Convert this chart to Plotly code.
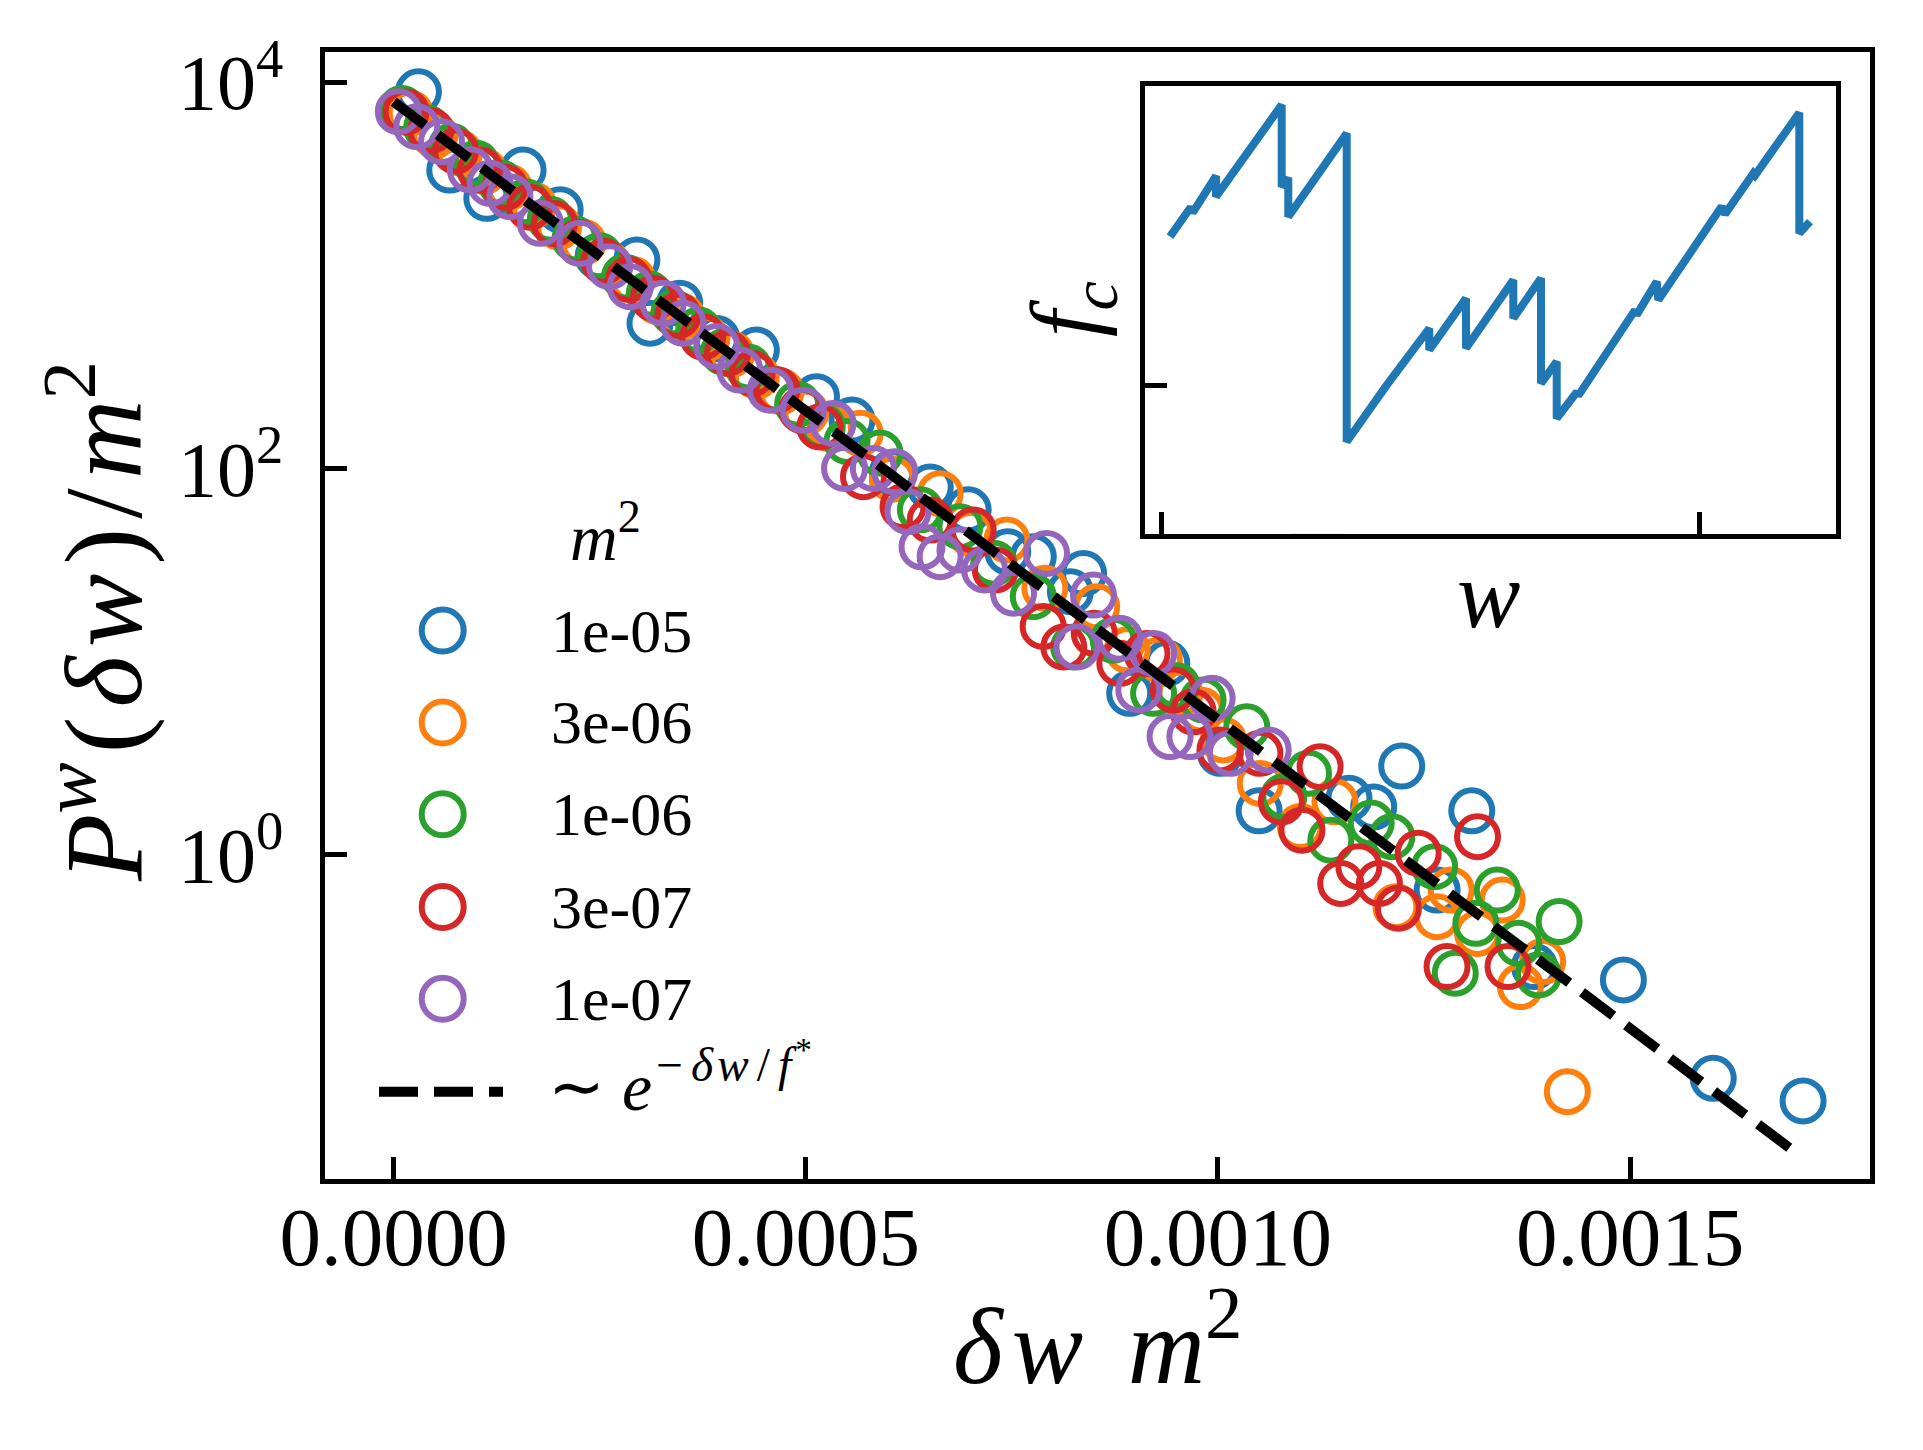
import plotly.graph_objects as go

# Scaled jump-size distributions P^w(dw)/m^2 versus dw*m^2, one series per m^2
# values (open circles, log y axis)

dw_1e05 = [0.00003, 0.000068, 0.000113, 0.000157, 0.000202, 0.000248, 0.000295, 0.000311,
           0.000347, 0.000392, 0.00044, 0.000513, 0.000556, 0.000605, 0.000651, 0.000697,
           0.000745, 0.000776, 0.000821, 0.000837, 0.000893, 0.000938, 0.001003, 0.00105,
           0.001159, 0.001189, 0.001223, 0.001266, 0.001308, 0.001384, 0.001492, 0.001601,
           0.00171]
p_1e05 = [8900, 3500, 2500, 3500, 2180, 1250, 1200, 564,
          716, 470, 410, 235, 178, 95, 80, 61,
          37, 34.9, 23.0, 28.6, 6.85, 9.8, 3.35, 1.69,
          1.96, 1.77, 2.88, 0.657, 1.69, 0.264, 0.225, 0.0697,
          0.0532]

dw_3e06 = [0.00002, 0.00005, 0.00008, 0.00011, 0.00014, 0.00017, 0.0002, 0.00023,
           0.00026, 0.00029, 0.00032, 0.00035, 0.00038, 0.00041, 0.00044, 0.00047,
           0.0005, 0.00053, 0.000566, 0.000605, 0.000663, 0.0007, 0.000744, 0.00079,
           0.000853, 0.00089, 0.000929, 0.000954, 0.00098, 0.0010065, 0.0010514, 0.0011,
           0.001142, 0.001216, 0.001266, 0.001283, 0.001315, 0.001345, 0.001367, 0.001394,
           0.001424]
p_3e06 = [6900, 5300, 4300, 3450, 2850, 2300, 1780, 1480,
          1140, 950, 730, 610, 470, 390, 300, 250,
          195, 160, 152, 88, 74, 46, 42.6, 24,
          19.2, 11.5, 10.2, 6.85, 5.6, 3.93, 2.34, 1.40,
          1.88, 0.539, 0.478, 0.658, 0.392, 0.583, 0.208, 0.280,
          0.0594]

dw_1e06 = [0.00001, 0.00004, 0.00007, 0.0001, 0.00013, 0.00016, 0.00019, 0.00022,
           0.00025, 0.00028, 0.00031, 0.00034, 0.00037, 0.0004, 0.00043, 0.00046,
           0.00049, 0.00052, 0.00055, 0.00059, 0.000639, 0.000687, 0.000728, 0.000776,
           0.000825, 0.000873, 0.000922, 0.00095, 0.000982, 0.001035, 0.00108, 0.00111,
           0.001137, 0.001186, 0.001211, 0.001263, 0.001288, 0.001313, 0.001339, 0.001365,
           0.001389, 0.001414]
p_1e06 = [7300, 5800, 4650, 3800, 3000, 2400, 1950, 1540,
          1260, 980, 800, 640, 520, 400, 335, 258,
          215, 165, 138, 120, 61, 49.9, 32.3, 21.7,
          11.9, 12.9, 6.85, 7.5, 6.33, 4.6, 2.0, 2.64,
          1.19, 1.46, 1.24, 0.868, 0.244, 0.442, 0.657, 0.348,
          0.239, 0.451]

dw_3e07 = [0.000015, 0.000045, 0.000075, 0.000105, 0.000135, 0.000165, 0.000195, 0.000225,
           0.000255, 0.000285, 0.000315, 0.000345, 0.000375, 0.000405, 0.000435, 0.000465,
           0.000495, 0.000517, 0.00057, 0.000618, 0.000651, 0.000703, 0.00073, 0.000788,
           0.000813, 0.00085, 0.000881, 0.000914, 0.000946, 0.00097, 0.0010025, 0.001051,
           0.001077, 0.001102, 0.001124, 0.001149, 0.001171, 0.001196, 0.001219, 0.001243,
           0.001278, 0.001315, 0.001352]
p_3e07 = [7000, 5600, 4400, 3500, 2850, 2250, 1850, 1480,
          1180, 950, 760, 620, 480, 395, 310, 255,
          200, 164, 90.6, 63.4, 54, 48, 29.8, 15.2,
          11.9, 14, 9.8, 11.0, 7.13, 5.5, 3.49, 3.35,
          1.88, 1.34, 2.86, 0.711, 0.868, 0.711, 0.529, 1.02,
          0.264, 1.24, 0.264]

dw_1e07 = [0.0000056, 0.000028, 0.000058, 0.000093, 0.000117, 0.000141, 0.000178, 0.000226,
           0.000262, 0.000287, 0.000327, 0.000351, 0.000392, 0.00042, 0.000457, 0.000497,
           0.000533, 0.000547, 0.000582, 0.000608, 0.000624, 0.000641, 0.000663, 0.000687,
           0.000717, 0.000752, 0.000792, 0.000829, 0.000849, 0.000881, 0.000904, 0.000922,
           0.000942, 0.000966, 0.000993, 0.001015, 0.001061]
p_1e07 = [7020, 5870, 4910, 3510, 2990, 2550, 1857, 1463,
          1107, 872, 716, 564, 427, 323, 254, 200,
          171, 100, 100, 96, 59.7, 39.3, 34.9, 37.8,
          29.8, 22.6, 36.3, 11.9, 22.1, 13.2, 7.13, 11.0,
          4.09, 4.09, 6.46, 3.35, 3.49]

# exponential guide ~ exp(-dw/f*), straight on log axis: its two end points
fit_dw = [0.0, 0.0017]
fit_p = [7900, 0.029]

series_labels = ["1e-05", "3e-06", "1e-06", "3e-07", "1e-07"]
series_colors = ["#1f77b4", "#ff7f0e", "#2ca02c", "#d62728", "#9467bd"]

# inset: critical force f_c along the wall position w (arbitrary units)
inset_w = [0.0154, 0.0540, 0.0577, 0.1011, 0.1011, 0.2233, 0.2233, 0.2356, 0.2356,
           0.3443, 0.3443, 0.4188, 0.4980, 0.4980, 0.5663, 0.5663, 0.6544, 0.6544,
           0.7059, 0.7059, 0.7352, 0.7352, 0.7727, 0.7754, 0.8809, 0.8840, 0.9213,
           0.9243, 1.0422, 1.0484, 1.1011, 1.1043, 1.1867, 1.1867, 1.2066]
inset_fc = [1.497, 1.595, 1.577, 1.699, 1.630, 1.936, 1.663, 1.693, 1.563,
            1.841, 0.813, 1.002, 1.191, 1.119, 1.291, 1.125, 1.352, 1.225,
            1.358, 1.008, 1.080, 0.891, 0.979, 0.967, 1.252, 1.236, 1.347,
            1.286, 1.597, 1.572, 1.708, 1.701, 1.910, 1.508, 1.547]
band_w = [0.2431, 0.3380]

FONT = "Liberation Serif"
W, H = 1923, 1450
OFF = 8                      # default body margin of the html page
ML, MR, MT, MB = 317, 61, 44, 279
PLOT_L, PLOT_R = OFF + ML, OFF + W - MR
PLOT_T, PLOT_B = OFF + MT, OFF + H - MB
HS = "\u200a"                # hair space, mimics math spacing


def px_x(x):
    """page pixel column -> paper x"""
    return (x - PLOT_L) / (PLOT_R - PLOT_L)


def px_y(y):
    """page pixel row -> paper y"""
    return (PLOT_B - y) / (PLOT_B - PLOT_T)


fig = go.Figure()

all_dw = [dw_1e05, dw_3e06, dw_1e06, dw_3e07, dw_1e07]
all_p = [p_1e05, p_3e06, p_1e06, p_3e07, p_1e07]
for dw, p, lab, col in zip(all_dw, all_p, series_labels, series_colors):
    fig.add_trace(go.Scatter(
        x=dw, y=p, mode="markers", name=lab, showlegend=False,
        marker=dict(symbol="circle-open", size=41, color=col, line=dict(width=6, color=col)),
    ))

fig.add_trace(go.Scatter(
    x=fit_dw, y=fit_p, mode="lines", name="fit", showlegend=False,
    line=dict(color="black", width=10, dash="39px,16px"),
))

fig.add_trace(go.Scatter(
    x=inset_w, y=inset_fc, mode="lines", showlegend=False,
    line=dict(color="#1f77b4", width=8), xaxis="x2", yaxis="y2",
))

axis_common = dict(
    showline=True, linecolor="black", linewidth=5, mirror=True,
    ticks="inside", ticklen=22, tickwidth=4.5, tickcolor="black",
    showgrid=False, zeroline=False,
)
inset_axis = {**axis_common, "linewidth": 4.5, "showticklabels": False}

# data <-> page pixel calibration taken from the reference ticks
X0_PX, X_PER = 393.7, 824200.0       # dw = (px - X0_PX) / X_PER
Y0_PX, Y_DEC = 854.8, 193.2          # log10 P = (Y0_PX - py) / Y_DEC

fig.update_layout(
    width=W, height=H,
    margin=dict(l=ML, r=MR, t=MT, b=MB, pad=0),
    paper_bgcolor="white", plot_bgcolor="white",
    font=dict(family=FONT, color="black", size=78),
    xaxis=dict(
        range=[(PLOT_L - X0_PX) / X_PER, (PLOT_R - X0_PX) / X_PER],
        tickvals=[0, 0.0005, 0.001, 0.0015],
        ticktext=["0.0000", "0.0005", "0.0010", "0.0015"],
        tickfont=dict(size=83), ticklabelstandoff=-19,
        **axis_common,
    ),
    yaxis=dict(
        type="log", range=[(Y0_PX - PLOT_B) / Y_DEC, (Y0_PX - PLOT_T) / Y_DEC],
        tickvals=[1, 100, 10000],
        ticktext=["10<sup>0</sup>", "10<sup>2</sup>", "10<sup>4</sup>"],
        tickfont=dict(size=78), ticklabelstandoff=21,
        **axis_common,
    ),
    xaxis2=dict(
        domain=[px_x(1145), px_x(1835.5)], anchor="y2",
        range=[(1145 - 1161.7) / 537.3, (1835.5 - 1161.7) / 537.3], tickvals=[0, 1],
        **inset_axis,
    ),
    yaxis2=dict(
        domain=[px_y(533.8), px_y(85.5)], anchor="x2",
        range=[1 + (385.7 - 533.8) / 300, 1 + (385.7 - 85.5) / 300], tickvals=[1],
        **inset_axis,
    ),
)

# shaded window in the inset
fig.add_shape(
    type="rect", xref="x2", yref="y2 domain", x0=band_w[0], x1=band_w[1], y0=0, y1=1,
    fillcolor="rgba(255,0,0,0.25)", line=dict(color="rgba(255,0,0,0.25)", width=3.5),
    layer="below",
)

# axis titles
fig.add_annotation(
    text=f"<i>δ{HS}w{HS} {HS}m</i><sup>2</sup>", xref="paper", yref="paper",
    x=0.5, y=px_y(1338), xanchor="center", yanchor="middle",
    showarrow=False, font=dict(size=107),
)
fig.add_annotation(
    text=f"<i>P</i><sup><i>w</i></sup>{HS}({HS}<i>δ{HS}w</i>{HS}){HS}/{HS}<i>m</i><sup>2</sup>",
    xref="paper", yref="paper", x=px_x(95), y=px_y(622),
    xanchor="center", yanchor="middle", textangle=-90,
    showarrow=False, font=dict(size=110),
)
fig.add_annotation(
    text="<i>w</i>", xref="paper", yref="paper", x=px_x(1488), y=px_y(595),
    xanchor="center", yanchor="middle", showarrow=False, font=dict(size=95),
)
fig.add_annotation(
    text="<i>f<sub>c</sub></i>", xref="paper", yref="paper", x=px_x(1071), y=px_y(309),
    xanchor="center", yanchor="middle", textangle=-90, showarrow=False, font=dict(size=95),
)

# hand-built legend (matplotlib-sized symbols)
fig.add_annotation(
    text="<i>m</i><sup>2</sup>", xref="paper", yref="paper", x=px_x(605), y=px_y(532),
    xanchor="center", yanchor="middle", showarrow=False, font=dict(size=66),
)
row_y = [630.6, 722.4, 814.3, 907.0, 998.8]
hx, hy = 21 / (PLOT_R - PLOT_L), 21 / (PLOT_B - PLOT_T)
for ry, lab, col in zip(row_y, series_labels, series_colors):
    cx, cy = px_x(442.7), px_y(ry)
    fig.add_shape(
        type="circle", xref="paper", yref="paper",
        x0=cx - hx, x1=cx + hx, y0=cy - hy, y1=cy + hy,
        line=dict(color=col, width=6), fillcolor="rgba(0,0,0,0)",
    )
    fig.add_annotation(
        text=lab, xref="paper", yref="paper", x=px_x(549), y=cy,
        xanchor="left", yanchor="middle", showarrow=False, font=dict(size=62),
    )
fig.add_shape(
    type="line", xref="paper", yref="paper",
    x0=px_x(379), x1=px_x(503), y0=px_y(1091.8), y1=px_y(1091.8),
    line=dict(color="black", width=10, dash="39px,16px"),
)
fig.add_annotation(
    text=f"∼ <i>e</i><sup>{HS}−{HS}{HS}<i>δ{HS}w</i>{HS}{HS}/{HS}{HS}<i>f</i>{HS}<sup>*</sup></sup>",
    xref="paper", yref="paper",
    x=px_x(546), y=px_y(1078), xanchor="left", yanchor="middle",
    showarrow=False, font=dict(size=68),
)

fig.write_html("out.html")
